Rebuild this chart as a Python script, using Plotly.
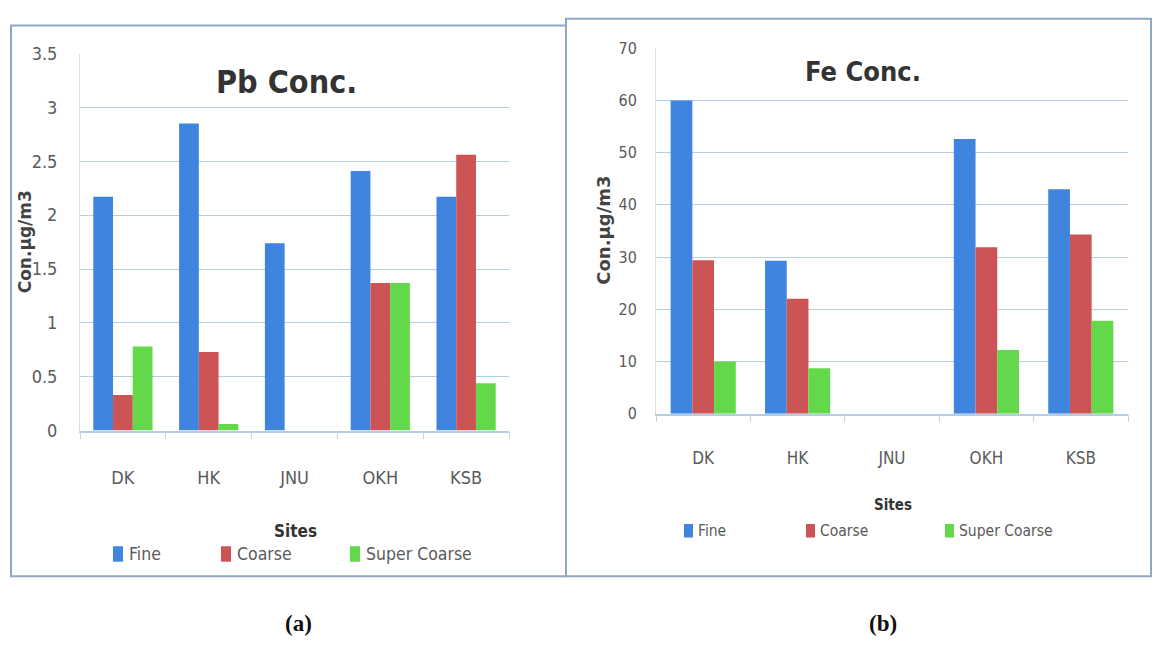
import plotly.graph_objects as go

# Sampling sites and size fractions
sites = ["DK", "HK", "JNU", "OKH", "KSB"]
fractions = ["Fine", "Coarse", "Super Coarse"]

# Pb concentration (µg/m3) per fraction
pb_fine = [2.17, 2.85, 1.74, 2.41, 2.17]
pb_coarse = [0.33, 0.73, 0.0, 1.37, 2.56]
pb_super = [0.78, 0.06, 0.0, 1.37, 0.44]

# Fe concentration (µg/m3) per fraction
fe_fine = [60.0, 29.3, 0.0, 52.6, 43.0]
fe_coarse = [29.4, 22.0, 0.0, 31.9, 34.3]
fe_super = [10.0, 8.7, 0.0, 12.2, 17.8]

pb_ticks = [0, 0.5, 1, 1.5, 2, 2.5, 3, 3.5]
pb_ticktext = ["0", "0.5", "1", "1.5", "2", "2.5", "3", "3.5"]
fe_ticks = [0, 10, 20, 30, 40, 50, 60, 70]

colors = ["#3f84de", "#cd5454", "#62d84a"]

W, H = 1153, 654


def px(x):
    return x / W


def py(y):
    return 1 - y / H


NARROW = "DejaVu Sans Condensed, Roboto, sans-serif"
TXT = "#5a5a5a"

fig = go.Figure()

for vals, name, col in zip([pb_fine, pb_coarse, pb_super], fractions, colors):
    fig.add_trace(go.Bar(x=sites, y=vals, name=name, marker=dict(color=col, line=dict(width=0)),
                         xaxis="x", yaxis="y", showlegend=False))
for vals, name, col in zip([fe_fine, fe_coarse, fe_super], fractions, colors):
    fig.add_trace(go.Bar(x=sites, y=vals, name=name, marker=dict(color=col, line=dict(width=0)),
                         xaxis="x2", yaxis="y2", showlegend=False))

grid = "#b3cde4"
axcommon = dict(showgrid=False, showline=True, linecolor=grid, linewidth=1.5,
                ticks="outside", tickson="boundaries", ticklen=7, tickcolor="#c4d3e0",
                fixedrange=True)

fig.update_layout(
    width=W, height=H,
    margin=dict(l=0, r=0, t=0, b=0),
    paper_bgcolor="white", plot_bgcolor="white",
    barmode="group", bargap=0.31, bargroupgap=0,
    xaxis=dict(domain=[px(80), px(509)], anchor="y", **axcommon,
               tickfont=dict(family=NARROW, size=18, color=TXT), ticklabelstandoff=30),
    yaxis=dict(domain=[py(433.5), py(44)], anchor="x", range=[0, 3.5],
               tickvals=pb_ticks, ticktext=pb_ticktext,
               showgrid=True, gridcolor=grid, gridwidth=1.3, zeroline=False,
               showline=True, linecolor="#d4e2ee", linewidth=1, ticks="",
               tickfont=dict(family=NARROW, size=18, color=TXT), ticklabelstandoff=18,
               fixedrange=True),
    xaxis2=dict(domain=[px(656), px(1128)], anchor="y2", **axcommon,
                tickfont=dict(family=NARROW, size=17, color=TXT), ticklabelstandoff=28),
    yaxis2=dict(domain=[py(416), py(38.5)], anchor="x2", range=[0, 70],
                tickvals=fe_ticks,
                showgrid=True, gridcolor=grid, gridwidth=1.3, zeroline=False,
                showline=True, linecolor="#d4e2ee", linewidth=1, ticks="",
                tickfont=dict(family=NARROW, size=16, color=TXT), ticklabelstandoff=15,
                fixedrange=True),
)

# Panel frames
frame = "#8ea8c6"
fig.add_shape(type="rect", xref="paper", yref="paper",
              x0=px(11), x1=px(566), y0=py(584), y1=py(15),
              line=dict(color=frame, width=2))
fig.add_shape(type="rect", xref="paper", yref="paper",
              x0=px(566), x1=px(1151), y0=py(584), y1=py(8),
              line=dict(color=frame, width=2))

ann = []


def text(x, y, s, size, bold=False, family=NARROW, color=TXT, angle=0, xanchor="center"):
    ann.append(dict(x=px(x), y=py(y), xref="paper", yref="paper", text=f"<b>{s}</b>" if bold else s,
                    showarrow=False, textangle=angle, xanchor=xanchor, yanchor="middle",
                    font=dict(family=family, size=size, color=color)))


# Chart titles
text(286, 73, "Pb Conc.", 32, bold=True, color="#333333")
text(863, 63, "Fe Conc.", 27, bold=True, color="#333333")

# Axis titles
text(25, 239, "Con.µg/m3", 17, bold=True, family="DejaVu Sans", color="#444444", angle=-90)
text(604, 227, "Con.µg/m3", 18, bold=True, family="DejaVu Sans", color="#444444", angle=-90)
text(295, 537, "Sites", 17, bold=True, color="#333333")
text(893, 510, "Sites", 15, bold=True, color="#333333")

# Legends
legend_left = [(113, 561), (221, 561), (350, 561)]
legend_right = [(684, 537), (806, 537), (945, 537)]
for (lx, ly), name, col in zip(legend_left, fractions, colors):
    fig.add_shape(type="rect", xref="paper", yref="paper",
                  x0=px(lx), x1=px(lx + 10), y0=py(ly + 8), y1=py(ly - 8),
                  fillcolor=col, line=dict(width=0))
    text(lx + 14, ly, name, 17.5, xanchor="left")
for (lx, ly), name, col in zip(legend_right, fractions, colors):
    fig.add_shape(type="rect", xref="paper", yref="paper",
                  x0=px(lx), x1=px(lx + 9), y0=py(ly + 7), y1=py(ly - 7),
                  fillcolor=col, line=dict(width=0))
    text(lx + 12, ly, name, 15.5, xanchor="left")

# Panel labels
text(298, 633, "(a)", 23, bold=True, family="Liberation Serif, Times New Roman, serif", color="#111111")
text(883, 633, "(b)", 23, bold=True, family="Liberation Serif, Times New Roman, serif", color="#111111")

fig.update_layout(annotations=ann)

fig.write_html("out.html")
